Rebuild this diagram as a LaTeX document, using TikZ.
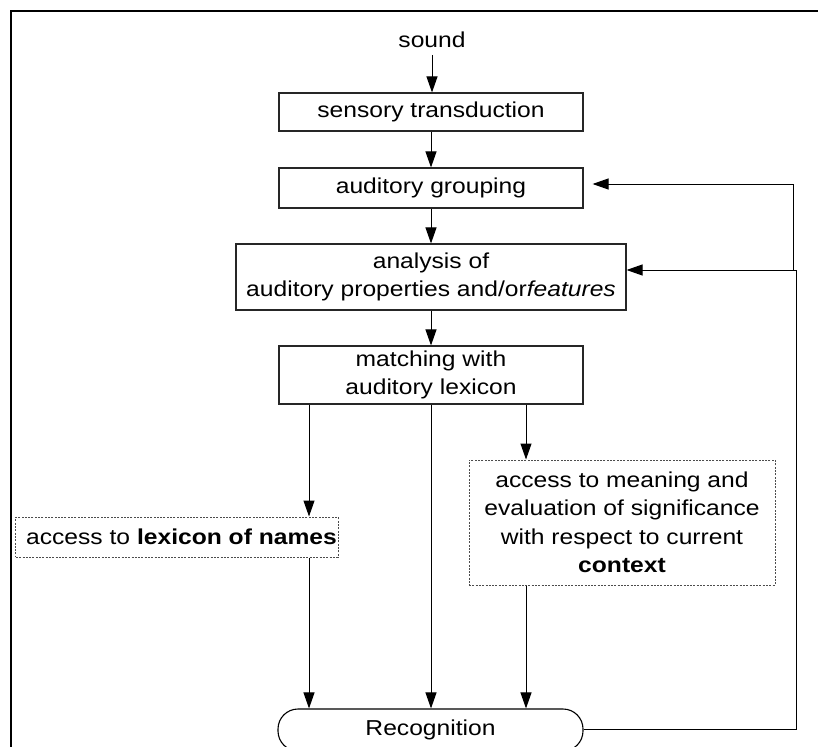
\documentclass[tikz,border=0pt]{standalone}
\usepackage{fontspec}
\setmainfont{Liberation Sans}[FakeStretch=1.14]
\usetikzlibrary{arrows.meta}
\begin{document}
\begin{tikzpicture}[x=1bp,y=-1bp,
  every node/.style={font=\fontsize{21.6bp}{28.5bp}\selectfont, inner sep=0pt, align=center},
  box/.style={draw=black!85, line width=1.1bp, fill=white},
  dbox/.style={draw=black!70, line width=1bp, dash pattern=on 2bp off 1.3bp},
  conn/.style={line width=1bp, -{Triangle[length=16bp,width=11bp]}},
  plain/.style={line width=1bp}]
\useasboundingbox (0,0) rectangle (818,747);
% frame
\draw[line width=2.5bp] (11,760) -- (11,11) -- (830,11);
% nodes
\node (sound) at (432,40) {sound};
\node[box, minimum width=304bp, minimum height=38bp] (sens) at (431,112) {sensory transduction};
\node[box, minimum width=304bp, minimum height=40bp] (group) at (431,188) {auditory grouping};
\node[box, minimum width=390bp, minimum height=66bp] (anal) at (431,277) {analysis of\\auditory properties and/or\textit{features}};
\node[box, minimum width=304bp, minimum height=58bp] (match) at (431,375) {matching with\\auditory lexicon};
\node[dbox, minimum width=322bp, minimum height=40bp] (lexn) at (177,537) {\hspace*{9bp}access to \textbf{lexicon of names}};
\node[dbox, minimum width=306bp, minimum height=125bp] (ctx) at (622,522.5) {access to meaning and\\evaluation of significance\\with respect to current\\\textbf{context}};
\node[draw=black, line width=1.1bp, rounded corners=20bp, minimum width=305bp, minimum height=42bp] (recog) at (430.5,730) {\raisebox{3bp}{Recognition}};
% x positions
\coordinate (xl) at (309,0);
\coordinate (xm) at (431,0);
\coordinate (xr) at (526,0);
\coordinate (fbA) at (796,270);
\coordinate (fbB) at (793,184);
% connectors
\draw[conn] (sound.south |- 0,55) -- (sens.north -| sound);
\draw[conn] (sens) -- (group);
\draw[conn] (group) -- (anal);
\draw[conn] (anal) -- (match);
\draw[conn] (match.south -| xl) -- (lexn.north -| xl);
\draw[conn] (match.south -| xm) -- (recog.north -| xm);
\draw[conn] (match.south -| xr) -- (ctx.north -| xr);
\draw[conn] (lexn.south -| xl) -- (recog.north -| xl);
\draw[conn] (ctx.south -| xr) -- (recog.north -| xr);
% feedback
\draw[conn] (recog.east |- 0,729) -- (fbA |- 0,729) -- (fbA) -- (fbA -| anal.east);
\draw[conn, shorten >=9bp] (fbB |- fbA) -- (fbB) -- (fbB -| group.east);
\end{tikzpicture}
\end{document}
